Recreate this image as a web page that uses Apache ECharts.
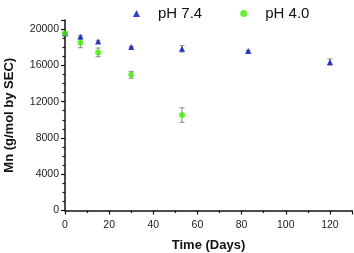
<!DOCTYPE html>
<html><head><meta charset="utf-8">
<script src="https://cdn.jsdelivr.net/npm/echarts@6/dist/echarts.min.js"></script>
<style>html,body{margin:0;padding:0;background:#fff}#c{width:354px;height:253px}</style>
</head><body><div id="c"></div>
<script>
// Data
const days74 = [0, 7, 15, 30, 53, 83, 120];
const mn74   = [19500, 19150, 18640, 18020, 17830, 17580, 16360];
const err74  = [100, 150, 120, 100, 350, 100, 350];
const days40 = [0, 7, 15, 30, 53];
const mn40   = [19530, 18490, 17430, 14960, 10520];
const err40  = [120, 550, 480, 380, 800];
const seriesNames = ['pH 7.4', 'pH 4.0'];
const xTicks = [0, 20, 40, 60, 80, 100, 120];
const yTicks = [0, 4000, 8000, 12000, 16000, 20000];

const pts = (xs, ys) => xs.map((x, i) => [x, ys[i]]);
const errData = (xs, ys, es) => xs.map((x, i) => [x, ys[i] - es[i], ys[i] + es[i]]);

function errRender(params, api) {
  const x = api.value(0);
  const lo = api.coord([x, api.value(1)]);
  const hi = api.coord([x, api.value(2)]);
  const w = 2.5;
  const st = {stroke: '#8a8a8a', lineWidth: 1};
  return {type: 'group', children: [
    {type: 'line', shape: {x1: lo[0], y1: lo[1], x2: hi[0], y2: hi[1]}, style: st},
    {type: 'line', shape: {x1: lo[0]-w, y1: lo[1], x2: lo[0]+w, y2: lo[1]}, style: st},
    {type: 'line', shape: {x1: hi[0]-w, y1: hi[1], x2: hi[0]+w, y2: hi[1]}, style: st}
  ]};
}

const chart = echarts.init(document.getElementById('c'), null, {renderer: 'canvas'});
const fontFam = 'Liberation Sans, Arial, sans-serif';
chart.setOption({
  animation: false,
  grid: {left: 65, right: 2, top: 20, bottom: 42.5, containLabel: false, outerBoundsMode: 'none'},
  legend: {
    data: seriesNames, top: 1, left: 128, itemGap: 38, itemWidth: 7, itemHeight: 7,
    textStyle: {fontSize: 15, fontFamily: fontFam, color: '#111', padding: [0, 0, 0, 13]}
  },
  xAxis: {
    type: 'value', min: 0, max: 130, interval: 20,
    name: 'Time (Days)', nameLocation: 'middle', nameGap: 28,
    nameTextStyle: {fontSize: 13, fontWeight: 'bold', fontFamily: fontFam, color: '#111'},
    axisLine: {lineStyle: {color: '#111', width: 1.5}},
    axisTick: {length: 4, lineStyle: {color: '#111', width: 1.2}},
    minorTick: {show: true, splitNumber: 2, length: 2.5, lineStyle: {color: '#111', width: 1.2}},
    axisLabel: {fontSize: 10.5, fontFamily: fontFam, color: '#222', margin: 9, showMaxLabel: false,
      formatter: v => xTicks.includes(v) ? String(v) : ''},
    splitLine: {show: false}
  },
  yAxis: {
    type: 'value', min: 0, max: 21000, interval: 4000,
    name: 'Mn (g/mol by SEC)', nameLocation: 'middle', nameGap: 49, nameRotate: 90,
    nameTextStyle: {fontSize: 13, fontWeight: 'bold', fontFamily: fontFam, color: '#111'},
    axisLine: {show: true, lineStyle: {color: '#111', width: 1.5}},
    axisTick: {show: true, length: 4, lineStyle: {color: '#111', width: 1.2}},
    minorTick: {show: true, splitNumber: 4, length: 2.5, lineStyle: {color: '#111', width: 1.2}},
    axisLabel: {fontSize: 10.5, fontFamily: fontFam, color: '#222', margin: 6, showMaxLabel: false,
      formatter: v => yTicks.includes(v) ? String(v) : ''},
    splitLine: {show: false}
  },
  series: [
    {type: 'custom', renderItem: errRender, data: errData(days74, mn74, err74), z: 1, silent: true},
    {type: 'custom', renderItem: errRender, data: errData(days40, mn40, err40), z: 1, silent: true},
    {name: seriesNames[0], type: 'scatter', data: pts(days74, mn74), symbol: 'triangle', symbolSize: 6,
      itemStyle: {color: '#0010c0'}, z: 3},
    {name: seriesNames[1], type: 'scatter', data: pts(days40, mn40), symbol: 'circle', symbolSize: 6,
      itemStyle: {color: '#44ee00'}, z: 4}
  ]
});
</script></body></html>
